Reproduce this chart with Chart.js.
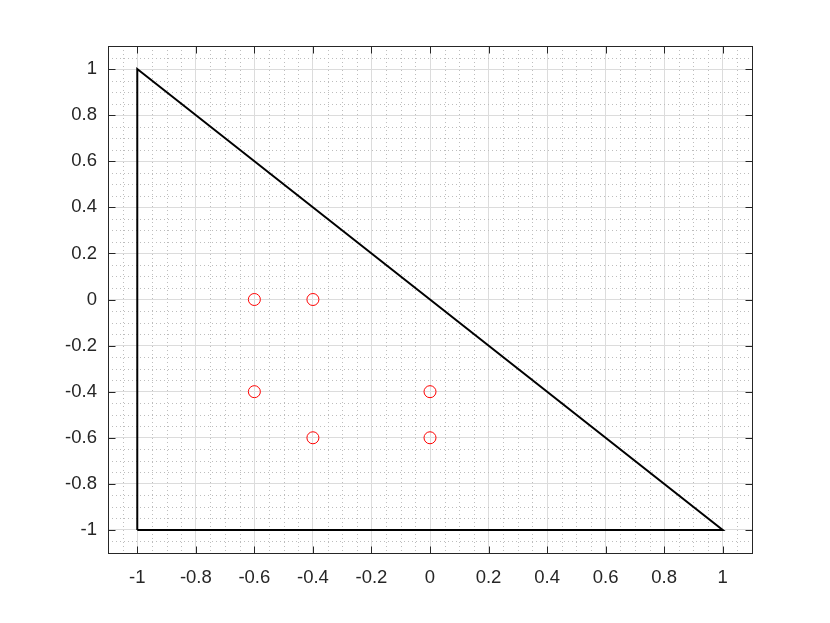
<!DOCTYPE html>
<html>
<head>
<meta charset="utf-8">
<script src="https://cdn.jsdelivr.net/npm/chart.js@4/dist/chart.umd.min.js"></script>
<style>
html,body{margin:0;padding:0;background:#fff;}
#wrap{width:830px;height:623px;}
</style>
</head>
<body>
<div id="wrap"><canvas id="c" width="830" height="623"></canvas></div>
<script>
// Triangle outline vertices (closed)
const triangleX = [-1, 1, -1, -1];
const triangleY = [-1, -1, 1, -1];
// Red circle markers
const pointsX = [-0.6, -0.4, -0.6, 0, -0.4, 0];
const pointsY = [0, 0, -0.4, -0.4, -0.6, -0.6];
// Axis tick labels
const xTicks = [-1, -0.8, -0.6, -0.4, -0.2, 0, 0.2, 0.4, 0.6, 0.8, 1];
const yTicks = [-1, -0.8, -0.6, -0.4, -0.2, 0, 0.2, 0.4, 0.6, 0.8, 1];
const axisMin = -1.1, axisMax = 1.1;

const triData = triangleX.map((x, i) => ({x: x, y: triangleY[i]}));
const ptData = pointsX.map((x, i) => ({x: x, y: pointsY[i]}));

function minorValues() {
  const out = [];
  for (let k = -22; k <= 22; k++) {
    if (k % 4 === 0) continue;
    const v = k * 0.05;
    if (v <= axisMin + 1e-9 || v >= axisMax - 1e-9) continue;
    out.push(v);
  }
  return out;
}

const framePlugin = {
  id: 'frame',
  beforeDatasetsDraw(chart) {
    const {ctx, chartArea: a, scales: {x, y}} = chart;
    ctx.save();
    ctx.strokeStyle = '#bdbdbd';
    ctx.lineWidth = 1;
    ctx.setLineDash([1, 3]);
    minorValues().forEach(v => {
      const px = Math.round(x.getPixelForValue(v)) + 0.5;
      ctx.beginPath(); ctx.moveTo(px, a.top); ctx.lineTo(px, a.bottom); ctx.stroke();
      const py = Math.round(y.getPixelForValue(v)) + 0.5;
      ctx.beginPath(); ctx.moveTo(a.left, py); ctx.lineTo(a.right, py); ctx.stroke();
    });
    ctx.restore();
  },
  afterDatasetsDraw(chart) {
    const {ctx, chartArea: a, scales: {x, y}} = chart;
    ctx.save();
    ctx.strokeStyle = '#262626';
    ctx.lineWidth = 1;
    const L = Math.round(a.left) + 0.5, R = Math.round(a.right) + 0.5;
    const T = Math.round(a.top) + 0.5, B = Math.round(a.bottom) + 0.5;
    ctx.strokeRect(L, T, R - L, B - T);
    const tl = 7;
    ctx.beginPath();
    xTicks.forEach(v => {
      const px = Math.round(x.getPixelForValue(v)) + 0.5;
      ctx.moveTo(px, B); ctx.lineTo(px, B - tl);
      ctx.moveTo(px, T); ctx.lineTo(px, T + tl);
    });
    yTicks.forEach(v => {
      const py = Math.round(y.getPixelForValue(v)) + 0.5;
      ctx.moveTo(L, py); ctx.lineTo(L + tl, py);
      ctx.moveTo(R, py); ctx.lineTo(R - tl, py);
    });
    ctx.stroke();
    ctx.restore();
  }
};

function fmt(v) {
  const r = Math.round(v * 10) / 10;
  return r === 0 ? '0' : String(r);
}

new Chart(document.getElementById('c'), {
  type: 'scatter',
  data: {
    datasets: [
      {
        data: triData, showLine: true, borderColor: '#000000', borderWidth: 2,
        pointRadius: 0, fill: false, tension: 0
      },
      {
        data: ptData, showLine: false, pointStyle: 'circle', pointRadius: 6,
        borderColor: '#ff0000', backgroundColor: 'rgba(0,0,0,0)', borderWidth: 1,
        pointHoverRadius: 6
      }
    ]
  },
  plugins: [framePlugin],
  options: {
    responsive: false,
    animation: false,
    events: [],
    layout: {padding: {left: 0, right: 78, top: 46, bottom: 0}},
    plugins: {legend: {display: false}, tooltip: {enabled: false}},
    scales: {
      x: {
        type: 'linear', min: axisMin, max: axisMax,
        afterBuildTicks: s => { s.ticks = xTicks.map(v => ({value: v})); },
        afterFit: s => { s.height = 70; },
        grid: {color: '#dcdcdc', lineWidth: 1, drawTicks: false},
        border: {display: false},
        ticks: {
          callback: v => fmt(v), padding: 14, maxRotation: 0, autoSkip: false,
          color: '#262626', font: {family: 'Liberation Sans', size: 18.5}
        }
      },
      y: {
        type: 'linear', min: axisMin, max: axisMax,
        afterBuildTicks: s => { s.ticks = yTicks.map(v => ({value: v})); },
        afterFit: s => { s.width = 108; },
        grid: {color: '#dcdcdc', lineWidth: 1, drawTicks: false},
        border: {display: false},
        ticks: {
          callback: v => fmt(v), padding: 11, autoSkip: false,
          color: '#262626', font: {family: 'Liberation Sans', size: 18.5}
        }
      }
    }
  }
});
</script>
</body>
</html>
